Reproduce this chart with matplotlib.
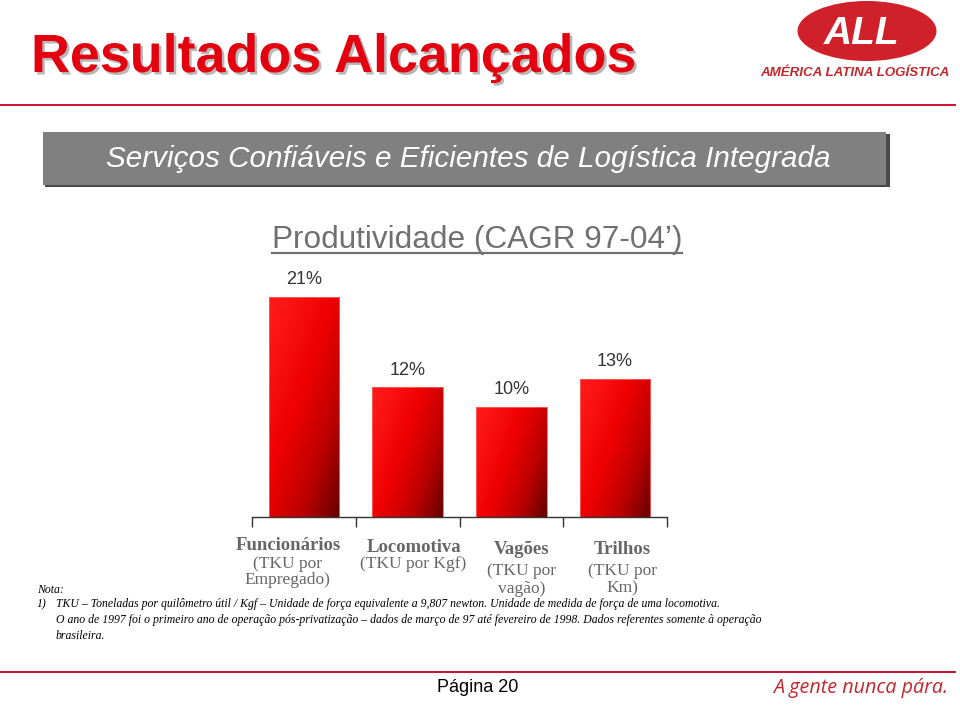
import numpy as np
import matplotlib
matplotlib.use('Agg')
import matplotlib.pyplot as plt
import matplotlib.patheffects as pe
from matplotlib.colors import LinearSegmentedColormap
from matplotlib.patches import Rectangle, Ellipse
from matplotlib.lines import Line2D

W, H = 960, 705

categories = ['Funcionários', 'Locomotiva', 'Vagões', 'Trilhos']
units = ['(TKU por\nEmpregado)', '(TKU por Kgf)', '(TKU por\nvagão)', '(TKU por\nKm)']
cagr = [21.0, 12.4, 10.5, 13.2]
cagr_labels = ['21%', '12%', '10%', '13%']

nota_lines = [
    'TKU \u2013 Toneladas por quilômetro útil / Kgf \u2013 Unidade de força equivalente a 9,807 newton. '
    'Unidade de medida de força de uma locomotiva.',
    'O ano de 1997 foi o primeiro ano de operação pós-privatização \u2013 dados de março de 97 até '
    'fevereiro de 1998. Dados referentes somente à operação',
    'brasileira.',
]

RED = '#e3000f'
DARK_RED = '#c1272d'
GRAY_TXT = '#666666'


def fx(x):
    return x / W


def fy(y):
    return 1 - y / H


fig = plt.figure(figsize=(W / 100, H / 100), dpi=100)
fig.patch.set_facecolor('white')


def fit(t, width):
    # scale font so that the text spans the wanted pixel width
    fig.canvas.draw()
    bb = t.get_window_extent()
    t.set_fontsize(t.get_fontsize() * width / bb.width)


# ---- header ----
title = fig.text(fx(31), fy(58), 'Resultados Alcançados', color=RED, fontsize=34,
                 fontweight='bold', family='Liberation Sans', va='center', ha='left')
title.set_path_effects([pe.SimplePatchShadow(offset=(1.8, -1.8), shadow_rgbFace='#9a9a9a', alpha=0.7),
                        pe.Normal()])
fit(title, 606)

fig.add_artist(Line2D([fx(0), fx(955)], [fy(105), fy(105)], color='#c8102e', lw=1.4))

# logo
fig.add_artist(Ellipse((fx(867), fy(31)), fx(139), 60 / H, angle=0, color='#d0202a', lw=0))
fig.text(fx(862), fy(44), 'ALL', color='white', fontsize=28, fontweight='bold',
         style='italic', family='Liberation Sans', ha='center', va='baseline')
sub_logo = fig.text(fx(855), fy(73), 'AMÉRICA LATINA LOGÍSTICA', color=DARK_RED, fontsize=9,
                    fontweight='bold', style='italic', family='Liberation Sans', ha='center', va='center')
fit(sub_logo, 190)

# grey banner
fig.add_artist(Rectangle((fx(45), fy(187)), fx(845), 53 / H, color='#4a4a4a', lw=0))
fig.add_artist(Rectangle((fx(43), fy(185)), fx(843), 53 / H, color='#808080', lw=0))
banner = fig.text(fx(468), fy(159), 'Serviços Confiáveis e Eficientes de Logística Integrada',
                  color='white', fontsize=19, style='italic', family='Liberation Sans',
                  ha='center', va='center')
fit(banner, 723)

# chart title with underline
ctitle = fig.text(fx(477), fy(240), 'Produtividade (CAGR 97-04\u2019)', color='#707070', fontsize=18,
                  family='Liberation Sans', ha='center', va='center')
fit(ctitle, 409)
fig.canvas.draw()
bb = ctitle.get_window_extent()
fig.add_artist(Line2D([bb.x0 / W, bb.x1 / W], [fy(253), fy(253)], color='#707070', lw=1.6))

# ---- bars ----
px_per_unit = 10.48
ymax = 24
ax = fig.add_axes([fx(252), fy(517), fx(667 - 252), ymax * px_per_unit / H])
ax.set_xlim(-0.5, 3.5)
ax.set_ylim(0, ymax)
ax.set_facecolor('none')
for s in ['top', 'right', 'left']:
    ax.spines[s].set_visible(False)
ax.spines['bottom'].set_color('#333333')
ax.spines['bottom'].set_linewidth(1.0)
ax.set_yticks([])
ax.set_xticks(np.arange(len(categories) + 1) - 0.5)
ax.set_xticklabels([])
ax.tick_params(axis='x', direction='out', length=7, color='#333333', width=1.0)

xpos = np.arange(len(categories))
bars = ax.bar(xpos, cagr, width=0.68, color='none', edgecolor='#ff6060', linewidth=0.6, zorder=3)

cmap = LinearSegmentedColormap.from_list('redgrad', ['#ff1a1a', '#f00000', '#bb0000', '#640000'])
u = np.linspace(0, 1, 60)
v = np.linspace(0, 1, 200)
U, V = np.meshgrid(u, v)
for b in bars:
    x0, w, h = b.get_x(), b.get_width(), b.get_height()
    hp = h * px_per_unit
    wp = 70.0
    # diagonal darkening towards the lower right corner
    grad = np.clip((U * wp + V * hp * 0.35) / (wp + hp * 0.35), 0, 1) ** 1.3
    im = ax.imshow(grad, cmap=cmap, extent=[x0, x0 + w, 0, h], origin='upper',
                   aspect='auto', zorder=2, vmin=0, vmax=1)
    im.set_clip_path(b)

for i, b in enumerate(bars):
    ax.annotate(cagr_labels[i], (b.get_x() + b.get_width() / 2, b.get_height()),
                xytext=(0, 17), textcoords='offset pixels', ha='center', va='center',
                fontsize=13, color='#333333', family='Liberation Sans')

# category labels below the axis
name_dx = [-16, 6, 10, 7]
name_dy = [28, 30, 32, 32]
unit_dy = [55, 47, 63, 63]
unit_ls = [0.95, 1.0, 1.12, 1.12]
for i, name in enumerate(categories):
    ax.annotate(name, (i, 0), xycoords=('data', 'axes fraction'), xytext=(name_dx[i], -name_dy[i]),
                textcoords='offset pixels', ha='center', va='center', fontsize=13.5,
                fontweight='bold', color=GRAY_TXT, family='Liberation Serif')
    ax.annotate(units[i], (i, 0), xycoords=('data', 'axes fraction'), xytext=(name_dx[i], -unit_dy[i]),
                textcoords='offset pixels', ha='center', va='center', fontsize=12.5,
                color=GRAY_TXT, family='Liberation Serif', linespacing=unit_ls[i],
                annotation_clip=False)

# ---- notes ----
n2 = fig.text(fx(56), fy(620), nota_lines[1], fontsize=9, style='italic',
              family='Liberation Serif', va='center', ha='left')
fit(n2, 705)
fs = n2.get_fontsize()
fig.text(fx(37), fy(590), 'Nota:', fontsize=fs, style='italic', family='Liberation Serif',
         va='center', ha='left')
fig.text(fx(37), fy(604), '1)', fontsize=fs, style='italic', family='Liberation Serif',
         va='center', ha='left')
fig.text(fx(56), fy(604), nota_lines[0], fontsize=fs, style='italic', family='Liberation Serif',
         va='center', ha='left')
fig.text(fx(56), fy(636), nota_lines[2], fontsize=fs, style='italic',
         family='Liberation Serif', va='center', ha='left')

# ---- footer ----
fig.add_artist(Line2D([fx(0), fx(955)], [fy(672), fy(672)], color='#c8102e', lw=1.4))
fig.text(fx(478), fy(688), 'Página 20', fontsize=13, family='Liberation Sans', ha='center', va='center')
slogan = fig.text(fx(948), fy(688), 'A gente nunca pára.', fontsize=15, style='italic',
                  family='Open Sans', color=DARK_RED, ha='right', va='center')
fit(slogan, 175)

fig.savefig('out.png', dpi=100, facecolor='white')
